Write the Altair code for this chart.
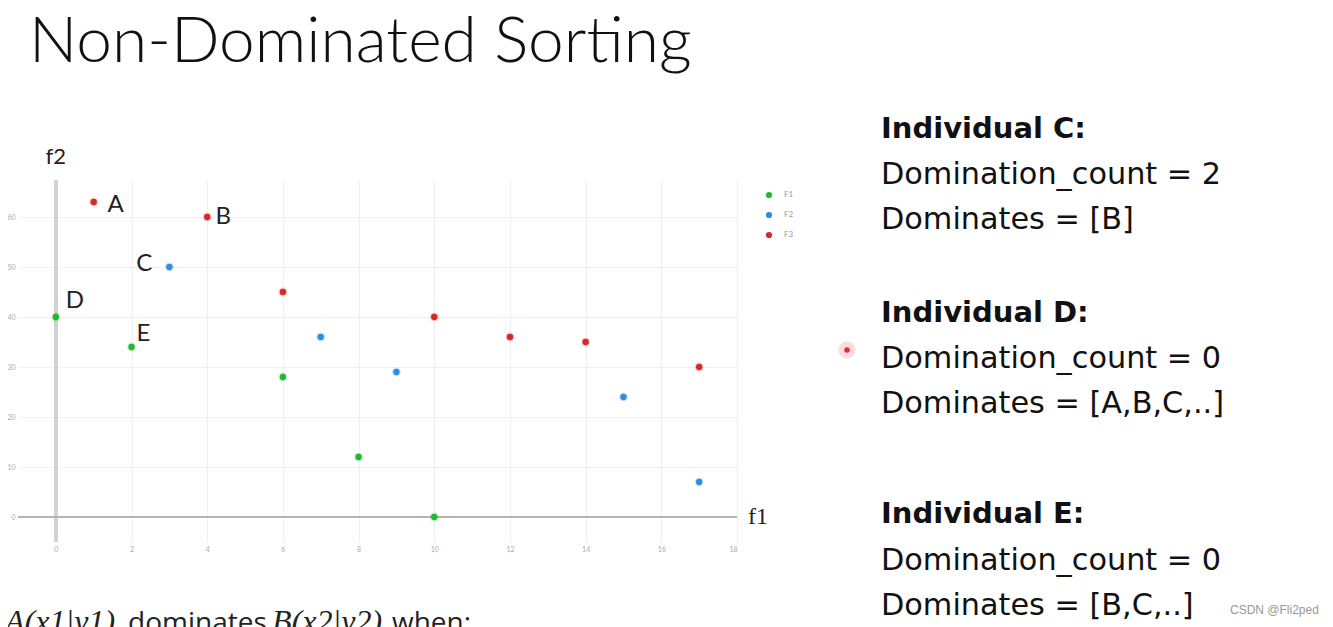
import altair as alt
import pandas as pd

# ---- data ----
fronts = ["F1", "F2", "F3"]
f1_x = [0, 2, 6, 8, 10]
f1_y = [40, 34, 28, 12, 0]
f2_x = [3, 7, 9, 15, 17]
f2_y = [50, 36, 29, 24, 7]
f3_x = [1, 4, 6, 10, 12, 14, 17]
f3_y = [63, 60, 45, 40, 36, 35, 30]

labels = ["A", "B", "C", "D", "E"]
label_x = [1, 4, 3, 0, 2]
label_y = [63, 60, 50, 40, 34]

x_ticks = [0, 2, 4, 6, 8, 10, 12, 14, 16, 18]
y_ticks = [0, 10, 20, 30, 40, 50, 60]

title_text = "Non-Dominated Sorting"
info_lines = [
    ("Individual C:", True), ("Domination_count = 2", False), ("Dominates = [B]", False),
    ("Individual D:", True), ("Domination_count = 0", False), ("Dominates = [A,B,C,..]", False),
    ("Individual E:", True), ("Domination_count = 0", False), ("Dominates = [B,C,..]", False),
]
watermark = "CSDN @Fli2ped"

# ---- styles / layout ----
colors = ["#1fb82e", "#2f8ce0", "#d92626"]
label_offsets = {"A": (22, 3), "B": (16, 0), "C": (-25, -3), "D": (19, -16), "E": (12, -13)}
info_y = [-42, 4, 49, 142, 188, 233, 343, 390, 435]
FONT = "Lato"
INFO_FONT = "DejaVu Sans"

rows = []
for name, xs_, ys_ in [("F1", f1_x, f1_y), ("F2", f2_x, f2_y), ("F3", f3_x, f3_y)]:
    for a, b in zip(xs_, ys_):
        rows.append({"f1": a, "f2": b, "front": name})
df = pd.DataFrame(rows)
lab_df = pd.DataFrame({"label": labels, "f1": label_x, "f2": label_y})

xs = alt.Scale(domain=[-1, 18], nice=False, zero=False)
ys = alt.Scale(domain=[-5, 67.4], nice=False, zero=False)
cs = alt.Scale(domain=fronts, range=colors)

legend = alt.Legend(
    title=None, orient="none", legendX=747, legendY=11, padding=0,
    symbolSize=38, symbolType="circle", symbolOpacity=1, labelFontSize=8, labelColor="#999999",
    labelFont=FONT, rowPadding=12, labelOffset=11, symbolStrokeWidth=0)

base = alt.Chart(df)

grid = base.mark_point(opacity=0).encode(
    x=alt.X("f1:Q", scale=xs, axis=alt.Axis(values=x_ticks, title=None)),
    y=alt.Y("f2:Q", scale=ys, axis=alt.Axis(values=y_ticks, title=None)),
)

zero_v = alt.Chart(df).mark_rule(color="#d2d2d2", strokeWidth=3).encode(x=alt.datum(0, scale=xs))
zero_h = alt.Chart(df).mark_rule(color="#b4b4b4", strokeWidth=2).encode(y=alt.datum(0, scale=ys))

halo = base.mark_circle(size=80, opacity=0.22).encode(
    x=alt.X("f1:Q", scale=xs), y=alt.Y("f2:Q", scale=ys),
    color=alt.Color("front:N", scale=cs, legend=legend),
)
pts = base.mark_circle(size=40, opacity=1).encode(
    x=alt.X("f1:Q", scale=xs), y=alt.Y("f2:Q", scale=ys),
    color=alt.Color("front:N", scale=cs, legend=legend),
)

layers = [grid, zero_v, zero_h, halo, pts]

for lab in labels:
    dx, dy = label_offsets[lab]
    layers.append(
        alt.Chart(lab_df).transform_filter(alt.datum.label == lab).mark_text(
            font=FONT, fontSize=24, color="#222222", dx=dx, dy=dy, align="center", baseline="middle"
        ).encode(x=alt.X("f1:Q", scale=xs), y=alt.Y("f2:Q", scale=ys), text="label:N")
    )

one = pd.DataFrame({"k": [0]})
layers.append(alt.Chart(one).mark_text(font=FONT, fontSize=22, color="#222222", align="center",
                                       baseline="middle").encode(
    x=alt.datum(0, scale=xs), y=alt.value(-23), text=alt.value("f2")))
layers.append(alt.Chart(one).mark_text(font="Liberation Serif", fontSize=24, color="#222222", align="left",
                                       baseline="middle").encode(
    x=alt.value(730), y=alt.datum(0, scale=ys), text=alt.value("f1")))

layers.append(alt.Chart(one).mark_text(font=FONT, fontWeight=300, fontSize=64, color="#111111", align="left",
                                       baseline="alphabetic").encode(
    x=alt.value(11), y=alt.value(-118), text=alt.value(title_text)))

for (txt, bold), yy in zip(info_lines, info_y):
    layers.append(alt.Chart(one).mark_text(font=INFO_FONT, fontWeight="bold" if bold else "normal",
                                           fontSize=29 if bold else 30.3, color="#111111", align="left",
                                           baseline="alphabetic").encode(
        x=alt.value(863), y=alt.value(yy), text=alt.value(txt)))

# bottom (cut-off) formula line
bottom_parts = [("A(x1|y1)", "Liberation Serif", "italic", 32, -13),
                ("dominates", "Open Sans", "normal", 28, 110),
                ("B(x2|y2)", "Liberation Serif", "italic", 32, 254),
                ("when:", "Open Sans", "normal", 28, 374)]
for txt, fnt, style, fs, xx in bottom_parts:
    layers.append(alt.Chart(one).mark_text(font=fnt, fontStyle=style, fontSize=fs, color="#222222",
                                           align="left", baseline="alphabetic").encode(
        x=alt.value(xx), y=alt.value(452), text=alt.value(txt)))

# laser pointer dot
layers.append(alt.Chart(one).mark_circle(size=300, color="#f04040", opacity=0.18).encode(
    x=alt.value(829), y=alt.value(170)))
layers.append(alt.Chart(one).mark_circle(size=30, color="#d42020", opacity=0.9).encode(
    x=alt.value(829), y=alt.value(170)))

layers.append(alt.Chart(one).mark_text(font="Liberation Sans", fontSize=12, color="#999999", align="left",
                                       baseline="middle").encode(
    x=alt.value(1212), y=alt.value(430), text=alt.value(watermark)))

chart = alt.layer(*layers).properties(
    width=719, height=362,
    autosize=alt.AutoSizeParams(type="none"),
    padding={"left": 10, "top": 172, "right": 588, "bottom": 85},
    background="white",
).configure_view(stroke=None).configure_axis(
    domain=False, ticks=False, grid=True, gridColor="#f0f0f0", gridWidth=1,
    labelFontSize=7, labelColor="#aaaaaa", labelFont=FONT, labelPadding=3,
)

chart.save("out.html", embed_options={"renderer": "svg", "actions": False})
